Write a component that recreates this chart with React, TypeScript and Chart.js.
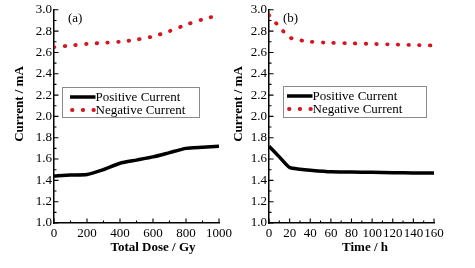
import React, { useEffect, useRef } from "react";
import { Chart, registerables } from "chart.js";

Chart.register(...registerables);

// ---- data ----
const doseX = [0, 100, 200, 300, 400, 500, 600, 700, 800, 900, 1000];
const dosePositive = [1.44, 1.45, 1.455, 1.5, 1.56, 1.59, 1.62, 1.66, 1.7, 1.71, 1.72];
const doseNegative = [2.65, 2.665, 2.68, 2.69, 2.7, 2.72, 2.75, 2.8, 2.86, 2.91, 2.95];

const timeX = [0, 10, 20, 30, 40, 60, 80, 100, 120, 140, 160];
const timePositive = [1.72, 1.62, 1.52, 1.505, 1.495, 1.48, 1.478, 1.475, 1.472, 1.47, 1.47];
const timeNegative = [2.95, 2.84, 2.74, 2.715, 2.7, 2.69, 2.685, 2.68, 2.675, 2.67, 2.665];

const yMajorTicks = [1.0, 1.2, 1.4, 1.6, 1.8, 2.0, 2.2, 2.4, 2.6, 2.8, 3.0];
const doseMajorTicks = [0, 200, 400, 600, 800, 1000];
const timeMajorTicks = [0, 20, 40, 60, 80, 100, 120, 140, 160];

const seriesLabels = ["Positive Current", "Negative Current"];
const yTitle = "Current / mA";
const doseTitle = "Total Dose / Gy";
const timeTitle = "Time / h";

const RED = "#d4161e";
const FONT = "'Liberation Serif', 'Times New Roman', serif";

function minorOf(majors: number[]): number[] {
  const out: number[] = [];
  for (let i = 0; i < majors.length - 1; i++) out.push((majors[i] + majors[i + 1]) / 2);
  return out;
}

const decorPlugin = {
  id: "decor",
  afterDraw(chart: any, _args: any, o: any) {
    const ctx = chart.ctx as CanvasRenderingContext2D;
    const { left, bottom } = chart.chartArea;
    const xs = chart.scales.x;
    const ys = chart.scales.y;
    ctx.save();
    ctx.strokeStyle = "#000";
    ctx.lineWidth = 1.1;
    // inward ticks
    const yM = yMajorTicks, ym = minorOf(yMajorTicks);
    ctx.beginPath();
    yM.forEach((v) => { const p = ys.getPixelForValue(v); ctx.moveTo(left, p); ctx.lineTo(left + 4.5, p); });
    ym.forEach((v) => { const p = ys.getPixelForValue(v); ctx.moveTo(left, p); ctx.lineTo(left + 2.5, p); });
    const xM: number[] = o.xMajor, xm = minorOf(o.xMajor);
    xM.forEach((v) => { const p = xs.getPixelForValue(v); ctx.moveTo(p, bottom); ctx.lineTo(p, bottom - 4.5); });
    xm.forEach((v) => { const p = xs.getPixelForValue(v); ctx.moveTo(p, bottom); ctx.lineTo(p, bottom - 2.5); });
    ctx.stroke();

    // titles
    ctx.fillStyle = "#000";
    ctx.textAlign = "center";
    ctx.textBaseline = "middle";
    ctx.font = `bold 13px ${FONT}`;
    ctx.fillText(o.xTitle, o.xTitlePos[0], o.xTitlePos[1]);
    ctx.save();
    ctx.translate(o.yTitlePos[0], o.yTitlePos[1]);
    ctx.rotate(-Math.PI / 2);
    ctx.fillText(yTitle, 0, 0);
    ctx.restore();

    // panel letter
    ctx.font = `13px ${FONT}`;
    ctx.textAlign = "left";
    ctx.fillText(o.letter, o.letterPos[0], o.letterPos[1]);

    // legend
    const [bx, by, bw, bh] = o.legendBox;
    ctx.strokeStyle = "#8a8a8a";
    ctx.lineWidth = 1;
    ctx.strokeRect(bx + 0.5, by + 0.5, bw, bh);
    const ds = chart.data.datasets;
    const rows = [by + 10, by + 23];
    const lx0 = bx + o.legendInset;
    const lx1 = lx0 + 25.5;
    ds.forEach((d: any, i: number) => {
      ctx.save();
      ctx.strokeStyle = d.borderColor;
      ctx.lineWidth = d.borderWidth;
      ctx.lineCap = d.borderCapStyle || "butt";
      ctx.setLineDash(d.borderDash || []);
      ctx.beginPath();
      ctx.moveTo(lx0 + (i === 1 ? 2 : 0), rows[i]);
      ctx.lineTo(lx1, rows[i]);
      ctx.stroke();
      ctx.restore();
      ctx.fillStyle = "#000";
      ctx.font = `13px ${FONT}`;
      ctx.textBaseline = "middle";
      ctx.textAlign = "left";
      ctx.fillText(d.label, lx1, rows[i] + 0.5);
    });
    ctx.restore();
  },
};

function buildChart(canvas: HTMLCanvasElement, cfg: any) {
  const pts = (xs: number[], ys: number[]) => xs.map((x, i) => ({ x, y: ys[i] }));
  return new Chart(canvas, {
    type: "line",
    data: {
      datasets: [
        {
          label: seriesLabels[0],
          data: pts(cfg.xs, cfg.pos),
          borderColor: "#000",
          borderWidth: 3.5,
          pointRadius: 0,
          tension: 0.2,
          borderCapStyle: "butt",
        },
        {
          label: seriesLabels[1],
          data: pts(cfg.xs, cfg.neg),
          borderColor: RED,
          borderWidth: 3.8,
          pointRadius: 0,
          tension: 0.2,
          borderDash: [0.5, 10.2],
          borderCapStyle: "round",
        },
      ],
    } as any,
    options: {
      responsive: false,
      animation: false,
      layout: { padding: { left: 0, right: cfg.padRight, top: 9, bottom: 0 } },
      plugins: {
        legend: { display: false },
        tooltip: { enabled: false },
        decor: cfg.decor,
      } as any,
      scales: {
        x: {
          type: "linear",
          min: cfg.xMajor[0],
          max: cfg.xMajor[cfg.xMajor.length - 1],
          afterBuildTicks: (s: any) => { s.ticks = cfg.xMajor.map((v: number) => ({ value: v })); },
          afterFit: (s: any) => { s.height = 45; },
          grid: { display: false, drawTicks: false, tickLength: 0 },
          border: { display: true, color: "#000", width: 1.5 },
          ticks: {
            autoSkip: false,
            maxRotation: 0,
            padding: 3,
            color: "#000",
            font: { family: FONT, size: 13 },
            callback: (v: any) => String(v),
          },
        },
        y: {
          type: "linear",
          min: 1,
          max: 3,
          afterBuildTicks: (s: any) => { s.ticks = yMajorTicks.map((v) => ({ value: v })); },
          afterFit: (s: any) => { s.width = cfg.yWidth; },
          grid: { display: false, drawTicks: false, tickLength: 0 },
          border: { display: true, color: "#000", width: 1.5 },
          ticks: {
            padding: 2,
            color: "#000",
            font: { family: FONT, size: 13 },
            callback: (v: any) => Number(v).toFixed(1),
          },
        },
      },
    } as any,
    plugins: [decorPlugin],
  });
}

export default function App() {
  const leftRef = useRef<HTMLCanvasElement>(null);
  const rightRef = useRef<HTMLCanvasElement>(null);

  useEffect(() => {
    document.body.style.margin = "0";
    const RX = 225;
    const a = buildChart(leftRef.current!, {
      xs: doseX, pos: dosePositive, neg: doseNegative, xMajor: doseMajorTicks,
      padRight: 18, yWidth: 54,
      decor: {
        xMajor: doseMajorTicks, xTitle: doseTitle, xTitlePos: [153, 248],
        yTitlePos: [20, 104], letter: "(a)", letterPos: [68, 19],
        legendBox: [62, 87, 137, 30], legendInset: 8,
      },
    });
    const b = buildChart(rightRef.current!, {
      xs: timeX, pos: timePositive, neg: timeNegative, xMajor: timeMajorTicks,
      padRight: 41, yWidth: 44,
      decor: {
        xMajor: timeMajorTicks, xTitle: timeTitle, xTitlePos: [365 - RX, 248],
        yTitlePos: [239 - RX, 104], letter: "(b)", letterPos: [283 - RX, 19],
        legendBox: [283 - RX, 86, 143, 31], legendInset: 4,
      },
    });
    return () => { a.destroy(); b.destroy(); };
  }, []);

  return (
    <div style={{ position: "relative", width: 475, height: 268, background: "#fff" }}>
      <canvas ref={leftRef} width={237} height={268} style={{ position: "absolute", left: 0, top: 0 }} />
      <canvas ref={rightRef} width={250} height={268} style={{ position: "absolute", left: 225, top: 0 }} />
    </div>
  );
}
